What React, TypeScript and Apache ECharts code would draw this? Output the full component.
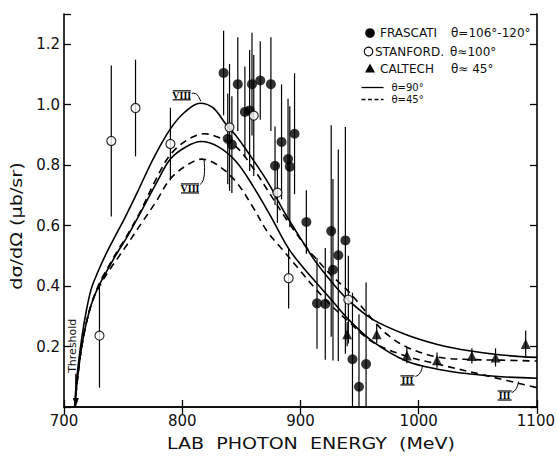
import React, { useEffect, useRef } from "react";
import * as echarts from "echarts";

// ---- axis ticks ----
const xTicks = [700, 800, 900, 1000, 1100];
const yTicks = [0.2, 0.4, 0.6, 0.8, 1.0, 1.2];

// ---- FRASCATI (theta = 106-120 deg) ----
const frascatiE = [835, 847, 859, 866, 875, 853, 857, 838.5, 842, 884, 895, 878.5, 889.5, 891, 905, 926, 938, 932, 927.5, 914, 921, 944, 955.5, 949.5];
const frascatiSigma = [1.105, 1.068, 1.068, 1.08, 1.068, 0.976, 0.981, 0.887, 0.868, 0.877, 0.904, 0.798, 0.82, 0.795, 0.612, 0.582, 0.551, 0.502, 0.454, 0.343, 0.341, 0.158, 0.142, 0.067];
const frascatiErr = [0.14, 0.155, 0.17, 0.13, 0.155, 0.15, 0.2, 0.15, 0.16, 0.19, 0.2, 0.13, 0.2, 0.2, 0.105, 0.35, 0.375, 0.35, 0.3, 0.15, 0.185, 0.22, 0.27, 0.24];

// ---- STANFORD (theta ~ 100 deg) ----
const stanfordE = [730, 740, 760.5, 790, 840, 860.5, 880.5, 890, 940.5];
const stanfordSigma = [0.236, 0.88, 0.989, 0.87, 0.925, 0.964, 0.709, 0.426, 0.355];
const stanfordErr = [0.172, 0.25, 0.16, 0.12, 0.21, 0.2, 0.1, 0.1, 0.145];

// ---- CALTECH (theta ~ 45 deg) ----
const caltechE = [939.5, 964.5, 990, 1015.5, 1045, 1065, 1090.5];
const caltechSigma = [0.241, 0.241, 0.17, 0.155, 0.169, 0.164, 0.208];
const caltechErr = [0.04, 0.03, 0.025, 0.025, 0.025, 0.03, 0.045];

// ---- theory curves ----
const curveViii90E = [709, 710, 711.5, 714, 718, 723, 729, 736, 744, 752, 762, 776, 790, 802, 815, 826, 837, 846, 856, 873, 887, 903, 912, 925, 940, 961, 989, 1016, 1044, 1070, 1100];
const curveViii90S = [0, 0.06, 0.12, 0.2, 0.3, 0.39, 0.45, 0.51, 0.57, 0.63, 0.71, 0.825, 0.92, 0.975, 1.005, 0.99, 0.935, 0.895, 0.84, 0.74, 0.64, 0.54, 0.485, 0.42, 0.355, 0.29, 0.24, 0.207, 0.185, 0.172, 0.164];

const curveIii90E = [709, 710.5, 712.5, 715, 719, 724, 730, 737, 745, 753, 765, 778, 790, 803, 816, 830, 845.5, 860, 875, 891, 911.6, 925, 940.5, 961, 989, 1016, 1044, 1070, 1100];
const curveIii90S = [0, 0.06, 0.13, 0.2, 0.28, 0.35, 0.405, 0.455, 0.51, 0.56, 0.645, 0.74, 0.82, 0.86, 0.878, 0.862, 0.812, 0.73, 0.63, 0.518, 0.419, 0.36, 0.29, 0.217, 0.153, 0.125, 0.109, 0.1, 0.095];

const curveUpper45E = [709, 710.5, 712.5, 715, 719, 724, 730, 737, 745, 753, 765, 778, 790, 805, 819, 832, 845.5, 860, 875, 890, 907, 912, 925, 940, 950, 963, 975, 990, 1016, 1045, 1070, 1100];
const curveUpper45S = [0, 0.06, 0.13, 0.2, 0.28, 0.35, 0.41, 0.46, 0.515, 0.565, 0.65, 0.755, 0.835, 0.885, 0.904, 0.89, 0.861, 0.79, 0.7, 0.61, 0.518, 0.496, 0.44, 0.385, 0.34, 0.28, 0.235, 0.198, 0.165, 0.157, 0.155, 0.152];

const curveLower45E = [709, 710.5, 712.5, 715, 719, 724, 730, 737, 745, 753, 765, 778, 790, 804, 816.5, 830, 845.5, 860, 872, 885.4, 900, 911.6, 925, 940, 961, 989, 1016, 1058, 1100];
const curveLower45S = [0, 0.06, 0.13, 0.2, 0.28, 0.35, 0.4, 0.445, 0.49, 0.535, 0.605, 0.68, 0.755, 0.8, 0.82, 0.8, 0.745, 0.66, 0.58, 0.518, 0.45, 0.396, 0.34, 0.285, 0.215, 0.169, 0.142, 0.103, 0.064];

// ---- annotation anchors (data coords) ----
const thresholdE = 710;
const labelViiiUpper = [799.6, 1.031];
const labelViiiLower = [806.6, 0.723];
const labelIiiA = [990.5, 0.088];
const labelIiiB = [1072.7, 0.038];

const FONT = '"DejaVu Sans", sans-serif';
const INK = "#111";

const zip2 = (a: number[], b: number[]) => a.map((v, i) => [v, b[i]]);
const zip3 = (a: number[], b: number[], c: number[]) => a.map((v, i) => [v, b[i], c[i]]);

function errSeries(data: number[][]) {
  return {
    type: "custom",
    clip: true,
    z: 3,
    encode: { x: 0, y: 1 },
    data,
    renderItem: (_p: any, api: any) => {
      const x = api.value(0);
      const y = api.value(1);
      const e = api.value(2);
      const a = api.coord([x, y + e]);
      const b = api.coord([x, Math.max(0, y - e)]);
      return {
        type: "line",
        shape: { x1: a[0], y1: a[1], x2: b[0], y2: b[1] },
        style: { stroke: "#000", lineWidth: 1.2 },
      };
    },
  };
}

function curve(e: number[], s: number[], dashed: boolean) {
  return {
    type: "line",
    data: zip2(e, s),
    smooth: 0.35,
    showSymbol: false,
    symbol: "none",
    z: 2,
    lineStyle: { color: "#000", width: 1.6, type: dashed ? [7, 5] : "solid" },
  };
}

const axisCommon = {
  axisLine: { show: true, lineStyle: { color: "#000", width: 1.6 } },
  axisTick: { show: true, inside: true, length: 7, lineStyle: { color: "#000", width: 1.3 } },
  splitLine: { show: false },
};

export default function App() {
  const ref = useRef<HTMLDivElement>(null);
  useEffect(() => {
    const chart = echarts.init(ref.current!, null, { renderer: "svg" });
    const option: any = {
      animation: false,
      backgroundColor: "#fff",
      grid: { left: 64, right: 10, top: 14, bottom: 49 },
      xAxis: [
        {
          type: "value", min: xTicks[0], max: xTicks[xTicks.length - 1], interval: 100, position: "bottom",
          ...axisCommon,
          axisLabel: {
            margin: 6, fontSize: 15, color: INK, fontFamily: FONT,
            formatter: (v: number) => (v === 1100 ? "{r|" + v + "}" : String(v)),
            rich: { r: { fontSize: 15, color: INK, fontFamily: FONT, padding: [0, 2, 0, 0] } },
          },
        },
        {
          type: "value", min: xTicks[0], max: xTicks[xTicks.length - 1], interval: 100, position: "top",
          ...axisCommon, axisLabel: { show: false },
        },
      ],
      yAxis: [
        {
          type: "value", min: 0, max: 1.3, interval: 0.2, position: "left",
          ...axisCommon,
          axisLabel: {
            margin: 4, fontSize: 15, color: INK, fontFamily: FONT,
            formatter: (v: number) => (yTicks.some((t) => Math.abs(t - v) < 1e-6) ? v.toFixed(1) : ""),
          },
        },
        {
          type: "value", min: 0, max: 1.3, interval: 0.2, position: "right",
          ...axisCommon, axisLabel: { show: false },
        },
      ],
      series: [
        curve(curveViii90E, curveViii90S, false),
        curve(curveIii90E, curveIii90S, false),
        curve(curveUpper45E, curveUpper45S, true),
        curve(curveLower45E, curveLower45S, true),
        errSeries(zip3(frascatiE, frascatiSigma, frascatiErr)),
        errSeries(zip3(stanfordE, stanfordSigma, stanfordErr)),
        errSeries(zip3(caltechE, caltechSigma, caltechErr)),
        {
          type: "scatter", z: 5, symbol: "circle", symbolSize: 10,
          itemStyle: { color: "#000" }, data: zip2(frascatiE, frascatiSigma),
        },
        {
          type: "scatter", z: 5, symbol: "circle", symbolSize: 9,
          itemStyle: { color: "#fff", borderColor: "#000", borderWidth: 1.2 }, data: zip2(stanfordE, stanfordSigma),
        },
        {
          type: "scatter", z: 5, symbol: "triangle", symbolSize: 10,
          itemStyle: { color: "#000" }, data: zip2(caltechE, caltechSigma),
        },
      ],
    };
    chart.setOption(option);

    const px = (x: number, y: number) => chart.convertToPixel({ seriesIndex: 0 }, [x, y]) as number[];
    const g: any[] = [];
    const txt = (x: number, y: number, text: string, size = 12) =>
      g.push({
        type: "text", x, y, z: 20,
        style: { text, font: `${size}px ${FONT}`, fill: INK, textVerticalAlign: "middle" },
      });

    // legend
    g.push({ type: "circle", z: 20, shape: { cx: 370, cy: 33, r: 4.8 }, style: { fill: "#000" } });
    txt(380, 33, "FRASCATI");
    txt(451, 33, "θ=106°-120°");
    g.push({ type: "circle", z: 20, shape: { cx: 368.5, cy: 51.5, r: 4.3 }, style: { fill: "#fff", stroke: "#000", lineWidth: 1.1 } });
    txt(375, 51.5, "STANFORD.");
    txt(450, 51.5, "θ≈100°");
    g.push({ type: "polygon", z: 20, shape: { points: [[370, 63.5], [375, 72.5], [365, 72.5]] }, style: { fill: "#000" } });
    txt(380, 68.5, "CALTECH");
    txt(451, 68.5, "θ≈ 45°");
    g.push({ type: "line", z: 20, shape: { x1: 361.5, y1: 87.5, x2: 383.5, y2: 87.5 }, style: { stroke: "#000", lineWidth: 1.3 } });
    txt(391.5, 87.5, "θ=90°", 10);
    g.push({ type: "line", z: 20, shape: { x1: 361.5, y1: 99.5, x2: 383.5, y2: 99.5 }, style: { stroke: "#000", lineWidth: 1.3, lineDash: [4, 2.5] } });
    txt(391.5, 99.5, "θ=45°", 10);

    // axis titles
    g.push({
      type: "text", x: 311, y: 444, scaleX: 1.19, z: 20,
      style: { text: "LAB  PHOTON  ENERGY  (MeV)", font: `16px ${FONT}`, fill: INK, textAlign: "center", textVerticalAlign: "middle" },
    });
    g.push({
      type: "text", x: 17, y: 226, rotation: Math.PI / 2, scaleX: 1.2, z: 20,
      style: { text: "dσ/dΩ (μb/sr)", font: `16px ${FONT}`, fill: INK, textAlign: "center", textVerticalAlign: "middle" },
    });

    // threshold arrow
    const t0 = px(thresholdE, 0);
    const t1 = px(thresholdE, 0.11);
    g.push({ type: "line", z: 20, shape: { x1: t1[0], y1: t1[1], x2: t0[0], y2: t0[1] - 6 }, style: { stroke: "#000", lineWidth: 1.3 } });
    g.push({ type: "polygon", z: 20, shape: { points: [[t0[0] - 3, t0[1] - 9], [t0[0] + 3, t0[1] - 9], [t0[0], t0[1]]] }, style: { fill: "#000" } });
    g.push({
      type: "text", x: t1[0] - 3, y: t1[1] - 28, rotation: Math.PI / 2, z: 20,
      style: { text: "Threshold", font: `11px ${FONT}`, fill: INK, textAlign: "center", textVerticalAlign: "middle" },
    });

    // roman numeral labels with bars and leaders
    const roman = (pos: number[], text: string, w: number, lead: number[]) => {
      const c = px(pos[0], pos[1]);
      g.push({
        type: "text", x: c[0], y: c[1], z: 20,
        style: { text, font: `bold 10px "Liberation Serif", serif`, fill: "#000", textAlign: "center", textVerticalAlign: "middle" },
      });
      g.push({ type: "line", z: 20, shape: { x1: c[0] - w / 2, y1: c[1] - 4.5, x2: c[0] + w / 2, y2: c[1] - 4.5 }, style: { stroke: "#000", lineWidth: 1.2 } });
      g.push({ type: "line", z: 20, shape: { x1: c[0] - w / 2, y1: c[1] + 4.5, x2: c[0] + w / 2, y2: c[1] + 4.5 }, style: { stroke: "#000", lineWidth: 1.2 } });
      g.push({
        type: "bezierCurve", z: 20,
        shape: {
          x1: c[0] + lead[0], y1: c[1] + lead[1],
          cpx1: c[0] + lead[2], cpy1: c[1] + lead[3],
          cpx2: c[0] + lead[4], cpy2: c[1] + lead[5],
          x2: c[0] + lead[6], y2: c[1] + lead[7],
        },
        style: { stroke: "#000", lineWidth: 1, fill: "none" },
      });
    };
    roman(labelViiiUpper, "VIII", 18, [10, -2, 15, -3, 17, 1, 19, 6]);
    roman(labelViiiLower, "VIII", 18, [10, -4, 15, -7, 15, -18, 14, -29]);
    roman(labelIiiA, "III", 14, [8, -4, 12, -5, 14, -9, 15, -14]);
    roman(labelIiiB, "III", 14, [7, -3, 11, -4, 13, -9, 14, -14]);

    chart.setOption({ graphic: g });
    return () => chart.dispose();
  }, []);
  return (
    <div
      ref={ref}
      style={{ position: "fixed", left: 0, top: 0, width: 558, height: 456, background: "#fff" }}
    />
  );
}
